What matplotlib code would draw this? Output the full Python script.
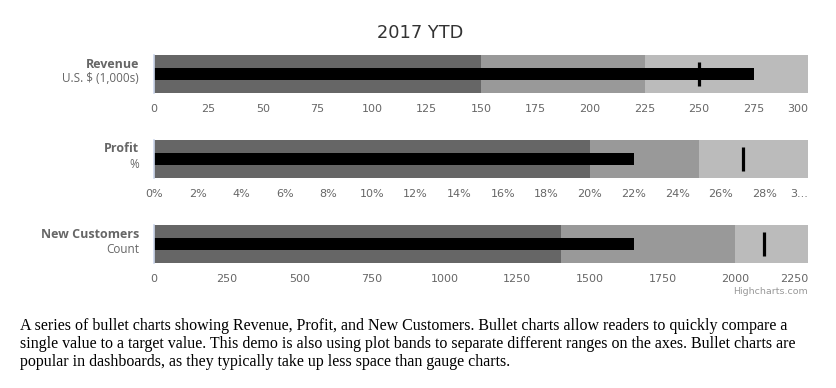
import numpy as np
import matplotlib
matplotlib.use("Agg")
import matplotlib.pyplot as plt

# data
names = ["Revenue", "Profit", "New Customers"]
subtitles = ["U.S. $ (1,000s)", "%", "Count"]
values = [275, 22, 1650]
targets = [250, 27, 2100]
band_edges = [[0, 150, 225, 300], [0, 20, 25, 30], [0, 1400, 2000, 2250]]
tick_values = [list(range(0, 301, 25)), list(range(0, 31, 2)), list(range(0, 2251, 250))]
tick_labels = [[str(t) for t in tick_values[0]],
               [f"{t}%" for t in tick_values[1][:-1]] + ["3..."],
               [str(t) for t in tick_values[2]]]
caption = ["A series of bullet charts showing Revenue, Profit, and New Customers. Bullet charts allow readers to quickly compare a",
           "single value to a target value. This demo is also using plot bands to separate different ranges on the axes. Bullet charts are",
           "popular in dashboards, as they typically take up less space than gauge charts."]

band_colors = ["#666666", "#999999", "#bbbbbb"]
W, H = 836, 388
fig = plt.figure(figsize=(W / 100, H / 100), dpi=100)
plt.rcParams['font.family'] = ['DejaVu Sans']

tops = [55, 140, 225]
ph = 38
x0, pw = 154, 654

for i in range(3):
    ax = fig.add_axes([x0 / W, 1 - (tops[i] + ph) / H, pw / W, ph / H])
    edges = band_edges[i]
    for j in range(3):
        ax.barh(0.5, edges[j + 1] - edges[j], left=edges[j], height=1.0,
                color=band_colors[j], linewidth=0)
    ax.barh(0.5, values[i], height=0.33, color="black", linewidth=0)
    ax.plot([targets[i], targets[i]], [0.18, 0.82], color="black", lw=2.3,
            solid_capstyle="butt")
    ax.set_xlim(edges[0], edges[-1])
    ax.set_ylim(0, 1)
    ax.set_yticks([])
    ax.set_xticks(tick_values[i])
    ax.set_xticklabels(tick_labels[i])
    ax.tick_params(axis="x", length=0, pad=8, labelsize=8, labelcolor="#666666")
    lbls = ax.get_xticklabels()
    lbls[-1].set_horizontalalignment("right")
    for s in ["top", "right", "bottom"]:
        ax.spines[s].set_visible(False)
    ax.spines["left"].set_color("#ccd6eb")
    ax.spines["left"].set_linewidth(1.2)

    fig.text(139 / W, 1 - (tops[i] + 9) / H, names[i], ha="right", va="center",
             fontsize=9, fontweight="bold", color="#666666", family="Open Sans")
    fig.text(139 / W, 1 - (tops[i] + 24) / H, subtitles[i], ha="right", va="center",
             fontsize=8.5, color="#666666", family="Open Sans")

fig.text(420 / W, 1 - 33 / H, "2017 YTD", ha="center", va="center",
         fontsize=12.8, color="#333333")
fig.text(808 / W, 1 - 292 / H, "Highcharts.com", ha="right", va="center",
         fontsize=6.8, color="#999999")

for k, line in enumerate(caption):
    fig.text(20 / W, 1 - (330 + 18 * k) / H, line, ha="left", va="baseline",
             fontsize=11.5, family="Liberation Serif", color="black")

fig.savefig("out.png", dpi=100)
